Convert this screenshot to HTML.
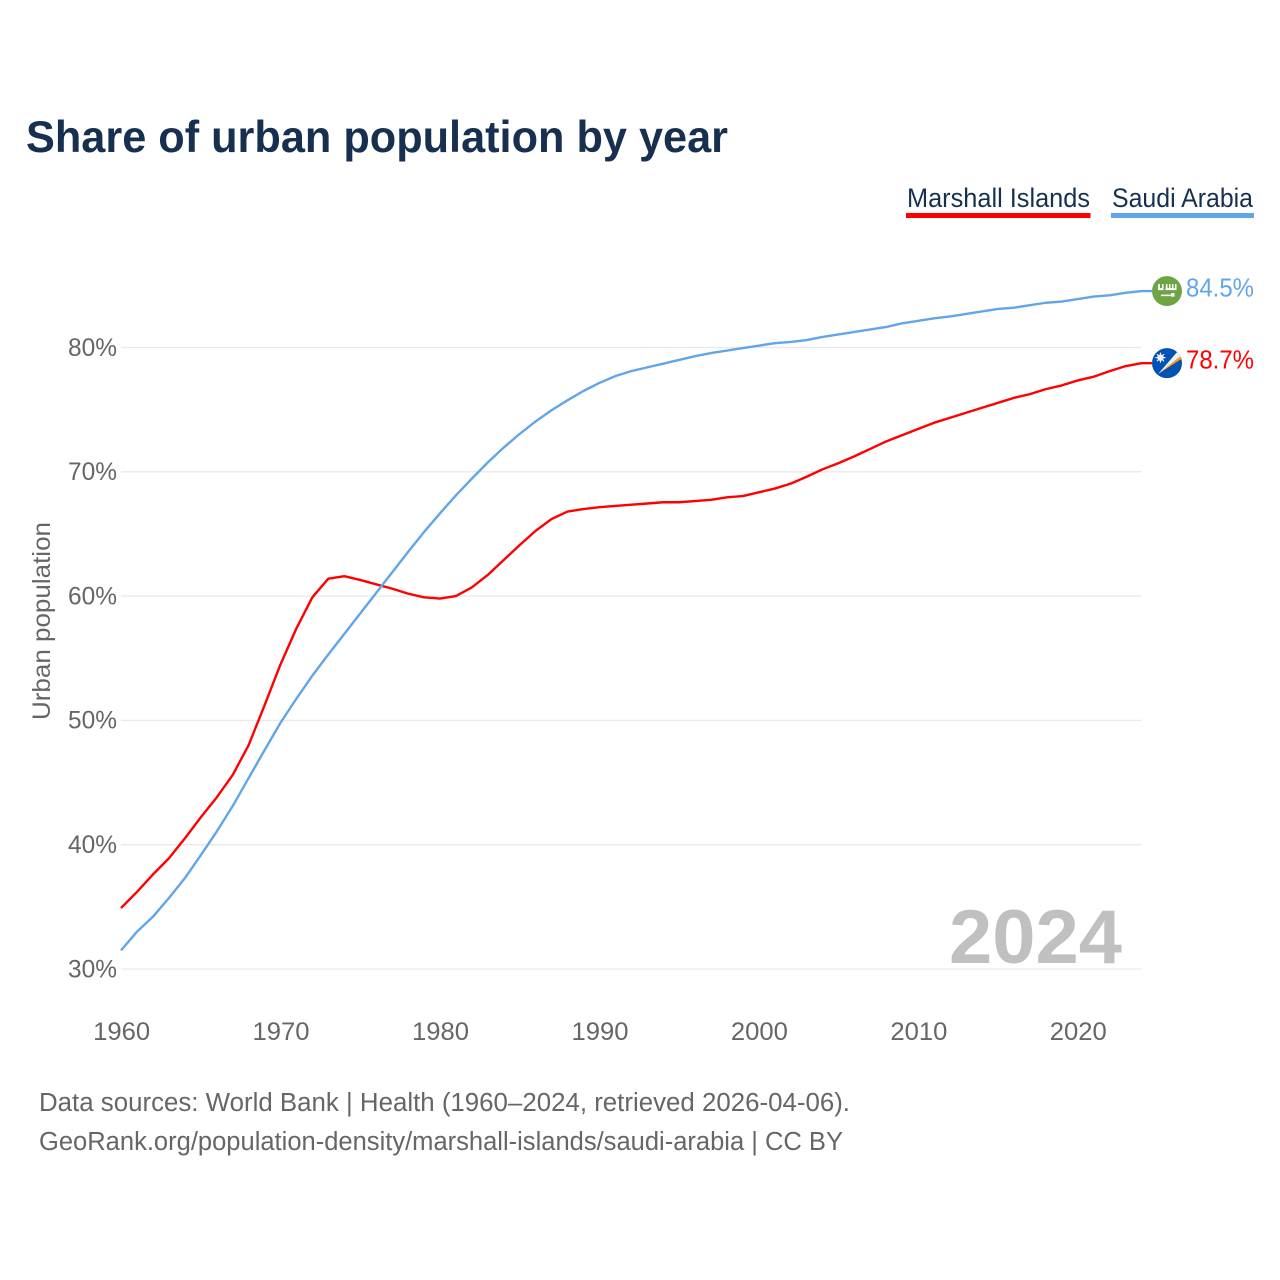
<!DOCTYPE html>
<html lang="en">
<head>
<meta charset="utf-8">
<title>Share of urban population by year</title>
<style>
html,body{margin:0;padding:0;background:#fff;width:1280px;height:1280px;overflow:hidden}
svg{display:block}
text{font-family:"Liberation Sans",sans-serif}
</style>
</head>
<body>
<svg id="chart" xmlns="http://www.w3.org/2000/svg" width="1280" height="1280" viewBox="0 0 1280 1280">
  <rect width="1280" height="1280" fill="#fff"/>
  <text x="26" y="152" font-size="44.500" font-weight="700" fill="#18304f" textLength="702" lengthAdjust="spacingAndGlyphs">Share of urban population by year</text>
  <g>
    <text x="907" y="207" font-size="26.500" fill="#18304f" textLength="183" lengthAdjust="spacingAndGlyphs">Marshall Islands</text>
    <rect x="906" y="213" width="184.500" height="5" fill="#ff0000"/>
  </g>
  <g>
    <text x="1112" y="207" font-size="26.500" fill="#18304f" textLength="141" lengthAdjust="spacingAndGlyphs">Saudi Arabia</text>
    <rect x="1111" y="213" width="143" height="5" fill="#62a5ea"/>
  </g>
  <g id="grid"></g>
  <g id="yticks"></g>
  <g id="xticks"></g>
  <text transform="translate(50,621) rotate(-90)" text-anchor="middle" font-size="25" fill="#666" textLength="198" lengthAdjust="spacingAndGlyphs">Urban population</text>
  <text x="1122" y="963" text-anchor="end" font-size="76" font-weight="700" fill="#c0c0c0" textLength="173" lengthAdjust="spacingAndGlyphs">2024</text>
  <g id="series"></g>
  <g id="flag-saudi">
    <circle cx="0" cy="0" r="15" fill="#6da544"/>
    <path d="M-9-7h2v4h2v-4h1.500v6h-5.500zM-1-7h1.500v4h1.500v-4h1.500v4h1.500v-4h1.500v4h1.500v-4h1.500v6h-11z" fill="#fff"/>
    <path d="M-6 3.500h10v-1.500h3.500v3.500h-3.500v-.5h-10z" fill="#fff"/>
  </g>
  <g id="flag-marshall">
    <defs><clipPath id="flag-clip"><circle cx="0" cy="0" r="15"/></clipPath></defs>
    <circle cx="0" cy="0" r="15" fill="#0052b4"/>
    <g clip-path="url(#flag-clip)">
      <path d="M-9 11L15-8V-4.500z" fill="#ff9811"/>
      <path d="M-9 11L15-8 10-11z" fill="#f0f0f0"/>
    </g>
    <circle cx="-6.500" cy="-5.500" r="3.200" fill="#f0f0f0"/>
    <path d="M-6.500-10.500v10M-11.500-5.500h10M-10-9l7 7M-3-9l-7 7" stroke="#f0f0f0" stroke-width="1.200"/>
  </g>
  <text id="label-saudi" x="1186" y="297" font-size="25.500" fill="#62a5ea" textLength="68" lengthAdjust="spacingAndGlyphs"></text>
  <text id="label-marshall" x="1186" y="369" font-size="25.500" fill="#ff0000" textLength="68" lengthAdjust="spacingAndGlyphs"></text>
  <text x="39" y="1111" font-size="25.500" fill="#666" textLength="811" lengthAdjust="spacingAndGlyphs">Data sources: World Bank | Health (1960–2024, retrieved 2026-04-06).</text>
  <text x="39" y="1150" font-size="25.500" fill="#666" textLength="804" lengthAdjust="spacingAndGlyphs">GeoRank.org/population-density/marshall-islands/saudi-arabia | CC BY</text>
</svg>
<script>
var startYear = 1960;
var yTickValues = [30, 40, 50, 60, 70, 80];
var xTickValues = [1960, 1970, 1980, 1990, 2000, 2010, 2020];
var marshallIslands = [34.9,36.2,37.6,38.9,40.5,42.2,43.8,45.6,48.0,51.2,54.5,57.4,59.9,61.4,61.6,61.3,60.95,60.6,60.2,59.9,59.8,60.0,60.7,61.7,62.9,64.1,65.25,66.2,66.8,67.0,67.15,67.25,67.35,67.45,67.55,67.55,67.65,67.75,67.95,68.05,68.35,68.65,69.05,69.6,70.2,70.7,71.25,71.85,72.45,72.95,73.45,73.95,74.35,74.75,75.15,75.55,75.95,76.25,76.65,76.95,77.35,77.65,78.1,78.5,78.74];
var saudiArabia = [31.5,33.0,34.2,35.7,37.3,39.15,41.05,43.1,45.35,47.6,49.8,51.75,53.6,55.3,56.95,58.6,60.25,61.9,63.55,65.15,66.65,68.1,69.45,70.75,71.95,73.05,74.05,74.95,75.75,76.5,77.15,77.7,78.1,78.4,78.7,79.0,79.3,79.55,79.75,79.95,80.15,80.35,80.45,80.6,80.85,81.05,81.25,81.45,81.65,81.95,82.15,82.35,82.5,82.7,82.9,83.1,83.2,83.4,83.6,83.7,83.9,84.1,84.2,84.4,84.54];

var SVGNS = 'http://www.w3.org/2000/svg';
function xScale(year) { return 121 + (year - 1960) * (1141.5 - 121) / 64; }
function yScale(pct) { return 969 - (pct - 30) * (969 - 347.5) / 50; }

var grid = document.getElementById('grid');
var yticks = document.getElementById('yticks');
var xticks = document.getElementById('xticks');
var series = document.getElementById('series');

yTickValues.forEach(function (v) {
  var line = document.createElementNS(SVGNS, 'line');
  
  
  line.setAttribute('x1', 121);
  line.setAttribute('x2', 1141.5);
  line.setAttribute('y1', yScale(v));
  line.setAttribute('y2', yScale(v));
  line.setAttribute('stroke', '#e9e9e9');
  line.setAttribute('stroke-width', '1.300');
  grid.appendChild(line);
  var t = document.createElementNS(SVGNS, 'text');
  
  
  t.setAttribute('x', 117);
  t.setAttribute('y', yScale(v) + 8.3);
  t.setAttribute('text-anchor', 'end');
  t.setAttribute('font-size', '25');
  t.setAttribute('fill', '#666');
  t.setAttribute('textLength', '49');
  t.setAttribute('lengthAdjust', 'spacingAndGlyphs');
  t.textContent = v + '%';
  yticks.appendChild(t);
});

xTickValues.forEach(function (v) {
  var t = document.createElementNS(SVGNS, 'text');
  
  
  t.setAttribute('x', xScale(v) + 0.6);
  t.setAttribute('y', 1040);
  t.setAttribute('text-anchor', 'middle');
  t.setAttribute('font-size', '25');
  t.setAttribute('fill', '#666');
  t.setAttribute('textLength', '57');
  t.setAttribute('lengthAdjust', 'spacingAndGlyphs');
  t.textContent = String(v);
  xticks.appendChild(t);
});

function drawSeries(values, color, name) {
  var pts = values.map(function (v, i) {
    return xScale(startYear + i).toFixed(2) + ',' + yScale(v).toFixed(2);
  });
  var lastY = yScale(values[values.length - 1]);
  pts.push('1152,' + lastY.toFixed(2));
  var line = document.createElementNS(SVGNS, 'polyline');
  
  
  line.setAttribute('points', pts.join(' '));
  line.setAttribute('fill', 'none');
  line.setAttribute('stroke', color);
  line.setAttribute('stroke-width', '2.400');
  line.setAttribute('stroke-linejoin', 'round');
  series.appendChild(line);
  return lastY;
}

var redEnd = drawSeries(marshallIslands, '#ff0000', 'line-marshall-islands');
var blueEnd = drawSeries(saudiArabia, '#62a5ea', 'line-saudi-arabia');

document.getElementById('flag-saudi').setAttribute('transform', 'translate(1167,' + blueEnd + ')');
document.getElementById('flag-marshall').setAttribute('transform', 'translate(1167,' + redEnd + ')');

var labelSaudi = document.getElementById('label-saudi');
labelSaudi.textContent = saudiArabia[saudiArabia.length - 1].toFixed(1) + '%';
labelSaudi.setAttribute('y', blueEnd + 5.3);
var labelMarshall = document.getElementById('label-marshall');
labelMarshall.textContent = marshallIslands[marshallIslands.length - 1].toFixed(1) + '%';
labelMarshall.setAttribute('y', redEnd + 5.3);
</script>
</body>
</html>
